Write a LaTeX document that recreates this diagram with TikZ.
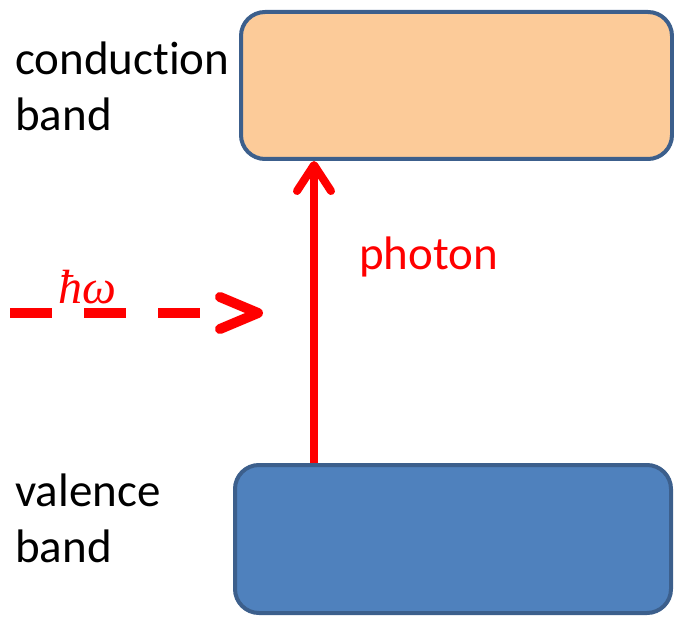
\documentclass[tikz,border=0pt]{standalone}
\usepackage{fontspec}
\setmainfont{Carlito}[Ligatures={NoCommon,NoRare}]
\newfontfamily\hwfont{Liberation Serif}
\usetikzlibrary{arrows.meta,calc}
\definecolor{cbfill}{RGB}{252,203,153}
\definecolor{vbfill}{RGB}{79,129,189}
\definecolor{bandedge}{RGB}{60,95,140}
\definecolor{photred}{RGB}{255,0,0}
\tikzset{
  bandbox/.style={draw=bandedge, line width=4pt, rounded corners=24pt, inner sep=0pt},
  bandlabel/.style={anchor=base west, align=left, inner sep=0pt, font=\fontsize{47}{56}\selectfont},
  photonline/.style={draw=photred, line width=8pt, -{Straight Barb[round, length=26pt, width=34pt]}},
  dashline/.style={draw=photred, line width=10pt, dash pattern=on 42pt off 32pt},
  chevron/.style={draw=photred, line width=10pt, line cap=round, line join=round},
}
\begin{document}
\begin{tikzpicture}[x=1pt,y=-1pt]
\useasboundingbox (0,0) rectangle (674,617);
\node[bandbox, fill=cbfill, minimum width=431pt, minimum height=147pt] (cb) at (456.5,85.5) {};
\node[bandbox, fill=vbfill, minimum width=436pt, minimum height=148pt] (vb) at (453,539) {};
\node[bandlabel] (cbl) at (15,131) {conduction\\band};
\node[bandlabel] (vbl) at (15,562) {valence\\band};
\node[bandlabel, text=photred] (ph) at (359,270) {photon};
\coordinate (ax) at (314,0);
\draw[photonline] (vb.north -| ax) -- (cb.south -| ax);
\coordinate (hs) at (10,313);
\coordinate (hd) at (203,313);
\coordinate (he) at (258,313);
\draw[dashline] (hs) -- (hd);
\draw[chevron] ($(he)+(-38,-16)$) -- (he) -- ($(he)+(-38,16)$);
\node[text=photred, anchor=base west, inner sep=0pt, font=\hwfont\itshape\fontsize{48}{56}\selectfont] (hw) at (58,304) {ħω};
\end{tikzpicture}
\end{document}
